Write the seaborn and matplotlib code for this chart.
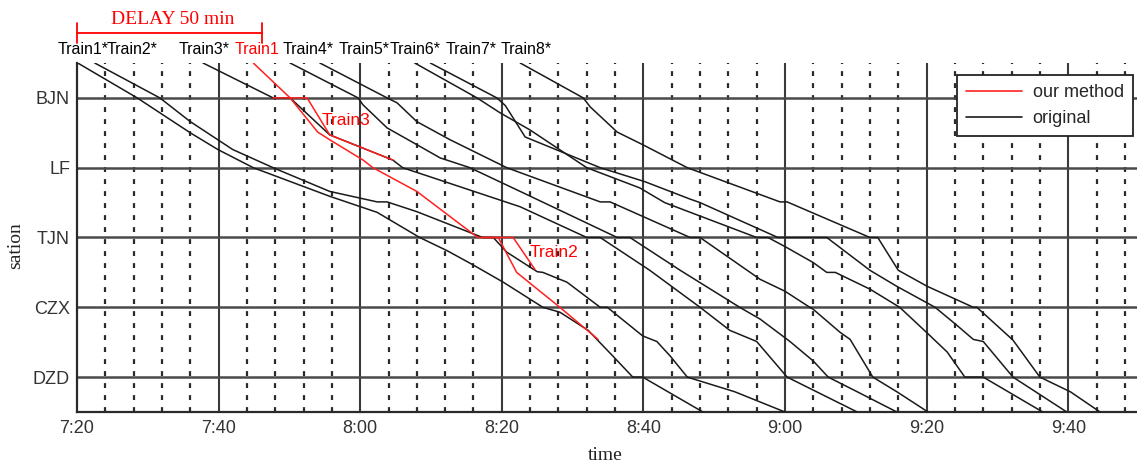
import matplotlib
matplotlib.use("Agg")
import numpy as np
import pandas as pd
import seaborn as sns
import matplotlib.pyplot as plt
from matplotlib.lines import Line2D
from matplotlib.transforms import blended_transform_factory

# ---------------- data ----------------
stations = ["BJN", "LF", "TJN", "CZX", "DZD"]
tick_times = [440, 460, 480, 500, 520, 540, 560, 580]
tick_labels = ["7:20", "7:40", "8:00", "8:20", "8:40", "9:00", "9:20", "9:40"]

train_names = ["Train1*", "Train2*", "Train3*", "Train1", "Train4*", "Train5*",
               "Train6*", "Train7*", "Train8*"]
train_label_colors = ["k", "k", "k", "red", "k", "k", "k", "k", "k"]

# times in minutes after midnight, positions: 0=BJN ... 4=DZD (-0.5 / 4.5 = chart edges)
t1_time = [440.1, 448.5, 456.0, 459.9, 464.9, 475.7, 482.4, 488.4, 492.3, 495.9, 500.2,
           505.8, 508.2, 512.2, 515.7, 518.5, 519.9, 528.4]
t1_pos = [-0.5, 0, 0.5, 0.74, 1, 1.41, 1.64, 2, 2.19, 2.39, 2.64, 3, 3.07, 3.33, 3.7, 4, 4, 4.5]

t2_time = [442.5, 451.7, 456.0, 462.0, 467.7, 475.7, 482.4, 483.8, 488.0, 497.3, 498.8, 500.7,
           505.0, 505.8, 509.2, 513.9, 514.9, 519.9, 521.9, 523.8, 526.2, 532.9, 540.0]
t2_pos = [-0.5, 0, 0.34, 0.74, 1, 1.34, 1.49, 1.49, 1.63, 2, 2, 2.21, 2.49, 2.5, 2.64, 3, 3,
          3.41, 3.49, 3.7, 4, 4.21, 4.5]

t3_time = [457.8, 467.7, 470.1, 475.7, 484.6, 486.0, 502.6, 512.0, 513.9, 520.9, 528.0,
           532.2, 536.0, 540.3, 550.2]
t3_pos = [-0.5, 0, 0, 0.53, 0.89, 1, 1.56, 2, 2, 2.47, 3, 3.33, 3.49, 4, 4.5]

t4_time = [470.1, 479.7, 480.4, 483.8, 488.0, 491.3, 495.5, 502.6, 516.3, 518.1, 525.2,
           533.6, 536.5, 540.7, 544.0, 546.1, 550.2, 555.8]
t4_pos = [-0.5, 0, 0.1, 0.43, 0.67, 0.86, 1, 1.34, 2, 2, 2.47, 3, 3.17, 3.49, 3.77, 4, 4.21, 4.5]

t5_time = [474.3, 483.8, 485.2, 488.0, 492.7, 500.7, 513.9, 515.3, 526.6, 528.0, 536.5,
           540.0, 543.5, 544.0, 547.8, 549.2, 552.4, 555.8, 560.2]
t5_pos = [-0.5, 0, 0.07, 0.34, 0.6, 1, 1.49, 1.49, 2, 2, 2.6, 2.77, 3, 3.03, 3.36, 3.46, 4,
          4.21, 4.5]

t6_time = [487.7, 496.5, 499.7, 504.0, 512.0, 519.5, 523.0, 536.0, 537.6, 540.0, 544.0,
           545.9, 547.1, 552.0, 556.2, 560.1, 562.9, 565.4, 568.0, 576.4]
t6_pos = [-0.5, 0, 0.21, 0.46, 1, 1.29, 1.5, 2, 2, 2.13, 2.36, 2.5, 2.5, 2.74, 3, 3.37,
          3.64, 4, 4, 4.5]

t7_time = [489.9, 499.3, 500.5, 503.3, 513.9, 520.2, 526.6, 528.0, 539.0, 545.9, 552.0,
           555.8, 561.2, 564.3, 566.6, 568.0, 572.2, 579.8]
t7_pos = [-0.5, 0, 0.11, 0.56, 1, 1.2, 1.45, 1.5, 2, 2, 2.47, 2.7, 3, 3.26, 3.46, 3.49, 4, 4.5]

t8_time = [502.6, 511.5, 512.5, 516.3, 519.9, 526.2, 539.3, 540.3, 552.0, 553.1, 556.0,
           560.1, 566.6, 567.1, 572.2, 576.0, 580.3, 584.5]
t8_pos = [-0.5, 0, 0.13, 0.49, 0.67, 1, 1.49, 1.49, 2, 2, 2.47, 2.7, 3, 3, 3.47, 4, 4.21, 4.5]

# rescheduled ("our method")
r1_time = [464.9, 470.1, 474.0, 475.7, 480.4, 481.8, 488.0, 496.6, 499.5, 502.1, 508.2, 513.6]
r1_pos = [-0.5, 0, 0.49, 0.6, 0.89, 1, 1.34, 2, 2, 2.5, 3, 3.46]
r2_time = [497.3, 501.6, 504.7]
r2_pos = [2, 2, 2.46]
r3_time = [467.7, 472.5, 475.7, 484.6]
r3_pos = [0, 0, 0.53, 0.89]

original = {"T1": (t1_time, t1_pos), "T2": (t2_time, t2_pos), "T3": (t3_time, t3_pos),
            "T4": (t4_time, t4_pos), "T5": (t5_time, t5_pos), "T6": (t6_time, t6_pos),
            "T7": (t7_time, t7_pos), "T8": (t8_time, t8_pos)}
ours = {"R1": (r1_time, r1_pos), "R2": (r2_time, r2_pos), "R3": (r3_time, r3_pos)}

def to_df(d, kind):
    rows = []
    for name, (tt, pp) in d.items():
        for i, (t, p) in enumerate(zip(tt, pp)):
            rows.append({"train": name, "time": t, "pos": p, "order": i, "kind": kind})
    return pd.DataFrame(rows)

df_orig = to_df(original, "original")
df_ours = to_df(ours, "our method")

# ---------------- figure ----------------
sns.set_style("white")
plt.rcParams["font.family"] = ["Liberation Sans", "DejaVu Sans"]

W, H = 1137, 463
fig = plt.figure(figsize=(W / 100, H / 100), dpi=100)
ax = fig.add_axes([77 / W, (H - 412) / H, (W - 77) / W, 349 / H])

x_min, x_max = 440, 440 + (W - 77) / 7.08
ax.set_xlim(x_min, x_max)
ax.set_ylim(4.5, -0.5)

# grid
for m in range(444, int(x_max) + 1, 4):
    if (m - 440) % 20 == 0:
        ax.axvline(m, color="#3a3a3a", lw=1.5, zorder=1)
    else:
        ax.axvline(m, color="#2a2a2a", lw=1.6, ls=(0, (2.2, 3.2)), zorder=1)
for s in range(len(stations)):
    ax.axhline(s, color="#4a4a4a", lw=1.8, zorder=1)

sns.lineplot(data=df_orig, x="time", y="pos", units="train", estimator=None, sort=False,
             color="#1a1a1a", lw=1.1, ax=ax, legend=False, zorder=3)
sns.lineplot(data=df_ours, x="time", y="pos", units="train", estimator=None, sort=False,
             color="#ff2020", lw=1.1, ax=ax, legend=False, zorder=4)

# axes styling
for side in ["top", "right"]:
    ax.spines[side].set_visible(False)
for side in ["left", "bottom"]:
    ax.spines[side].set_linewidth(1.6)
    ax.spines[side].set_color("#2a2a2a")

ax.set_xticks(tick_times)
ax.set_xticklabels(tick_labels, fontsize=13, color="#333")
ax.set_yticks(range(len(stations)))
ax.set_yticklabels(stations, fontsize=13, color="#333")
ax.tick_params(length=0, pad=5)
ax.tick_params(axis="x", pad=6)
ax.set_xlabel("")
ax.set_ylabel("")

fig.text(605 / W, 1 - 455 / H, "time", ha="center", va="center", fontsize=14,
         family="Liberation Serif", color="#222")
fig.text(16 / W, 1 - 246 / H, "sation", ha="center", va="center", fontsize=14,
         family="Liberation Serif", rotation=90, color="#222")

# train name labels along the top
trf = blended_transform_factory(ax.transData, fig.transFigure)
label_x = [437.2, 444.2, 454.3, 462.3, 469.1, 476.9, 484.2, 492.1, 499.8]
for name, lx, c in zip(train_names, label_x, train_label_colors):
    ax.text(lx, 1 - 50 / H, name, transform=trf, ha="left", va="center",
            fontsize=11.5, color=c, clip_on=False)

# delay bracket
delay_end = 440 + (262 - 77) / 7.08
yb = 1 - 33 / H
ax.plot([440, delay_end], [yb, yb], transform=trf, color="red", lw=1.3, clip_on=False)
for xx in [440, delay_end]:
    ax.plot([xx, xx], [1 - 23 / H, 1 - 43 / H], transform=trf, color="red", lw=1.3,
            clip_on=False)
ax.text((440 + delay_end) / 2 + 0.5, 1 - 20 / H, "DELAY 50 min", transform=trf, ha="center",
        va="center", fontsize=14, family="Liberation Serif", color="red")

# in-plot red labels
ax.text(474.5, 0.33, "Train3", color="red", fontsize=12.5, ha="left", va="center")
ax.text(504.0, 2.22, "Train2", color="red", fontsize=12.5, ha="left", va="center")

handles = [Line2D([], [], color="#ff2020", lw=1.2), Line2D([], [], color="#1a1a1a", lw=1.2)]
leg = ax.legend(handles, ["our method", "original"], loc="upper right",
                bbox_to_anchor=(0.996, 0.966), borderaxespad=0, fontsize=13,
                frameon=True, fancybox=False, edgecolor="#222", framealpha=1,
                handlelength=3.1, borderpad=0.5, labelspacing=0.5, handletextpad=0.6)
leg.get_frame().set_linewidth(1.3)
leg.set_zorder(10)

fig.savefig("out.png", dpi=100)
